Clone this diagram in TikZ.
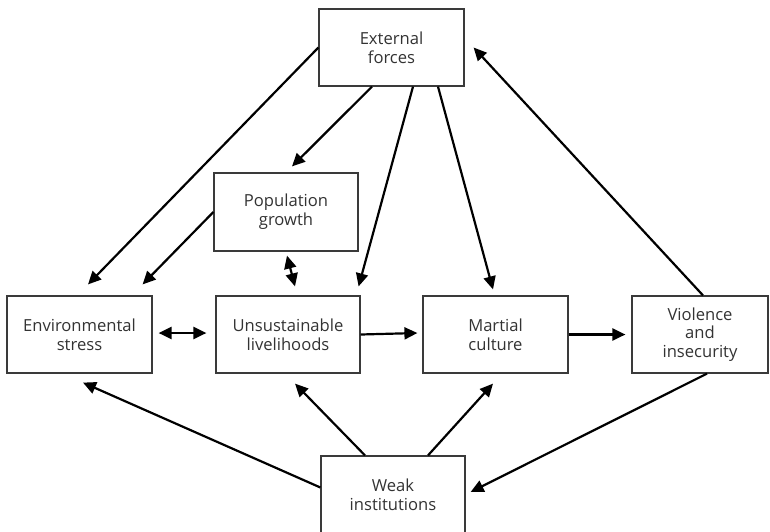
\documentclass[tikz,border=0pt]{standalone}
\usepackage{fontspec}
\setmainfont{Open Sans}
\usetikzlibrary{arrows.meta}
\definecolor{BoxEdge}{HTML}{3A3A3A}
\definecolor{LabelGrey}{HTML}{333333}
\tikzset{
    factor/.style={draw=BoxEdge, line width=0.6pt, fill=white, text=LabelGrey,
        align=center, font=\fontsize{8.3}{9.4}\selectfont,
        minimum width=72.5pt, minimum height=38.5pt, inner sep=0pt},
    link/.style={line width=1.1pt, ->},
    twoway/.style={line width=1.1pt, <->},
}
\begin{document}
\begin{tikzpicture}[x=0.5pt, y=-0.5pt, >={Triangle[length=6.5pt, width=6pt]}]
    \useasboundingbox (0,0) rectangle (770,531);

    % Factors
    \node[factor] (ext) at (391.5,47.5) {External\\forces};
    \node[factor, minimum width=72pt, minimum height=39pt] (pop) at (286,212) {Population\\growth};
    \node[factor] (env) at (79.5,334.5) {Environmental\\stress};
    \node[factor, minimum width=72pt] (uns) at (288,334.5) {Unsustainable\\livelihoods};
    \node[factor] (mar) at (495.5,334.5) {Martial\\culture};
    \node[factor, minimum width=68pt] (vio) at (700,334.5) {Violence\\and\\insecurity};
    \node[factor, minimum width=72pt] (weak) at (393,494.5) {Weak\\institutions};

    % From external forces
    \draw[link] (ext.west) -- ([shift={(8.5,-11)}]env.north);
    \draw[link] ([shift={(-19.5,0)}]ext.south) -- ([shift={(6,-6)}]pop.north);
    \draw[link] ([shift={(21.5,0)}]ext.south) -- ([shift={(-2,-9)}]uns.north east);
    \draw[link] ([shift={(46.5,0)}]ext.south) -- ([shift={(-2.5,-6)}]mar.north);

    % Middle row
    \draw[link] (pop.west) -- ([shift={(-10,-11)}]env.north east);
    \draw[twoway] ([shift={(1,4)}]pop.south) -- ([shift={(7,-9)}]uns.north);
    \draw[twoway] ([shift={(6,-1.5)}]env.east) -- ([shift={(-9,-1.5)}]uns.west);
    \draw[link] (uns.east) -- ([shift={(-5,-1.5)}]mar.west);
    \draw[link] (mar.east) -- ([shift={(-6,0)}]vio.west);

    % Feedback loops
    \draw[link] ([shift={(3,0)}]vio.north) -- ([shift={(9,0)}]ext.east);
    \draw[link] ([shift={(7,0)}]vio.south) -- ([shift={(5,-2.5)}]weak.east);
    \draw[link] ([shift={(0,-7)}]weak.west) -- ([shift={(3.5,9)}]env.south);
    \draw[link] ([shift={(-28,0)}]weak.north) -- ([shift={(7,10)}]uns.south);
    \draw[link] ([shift={(35,0)}]weak.north) -- ([shift={(-2.5,10)}]mar.south);
\end{tikzpicture}
\end{document}
